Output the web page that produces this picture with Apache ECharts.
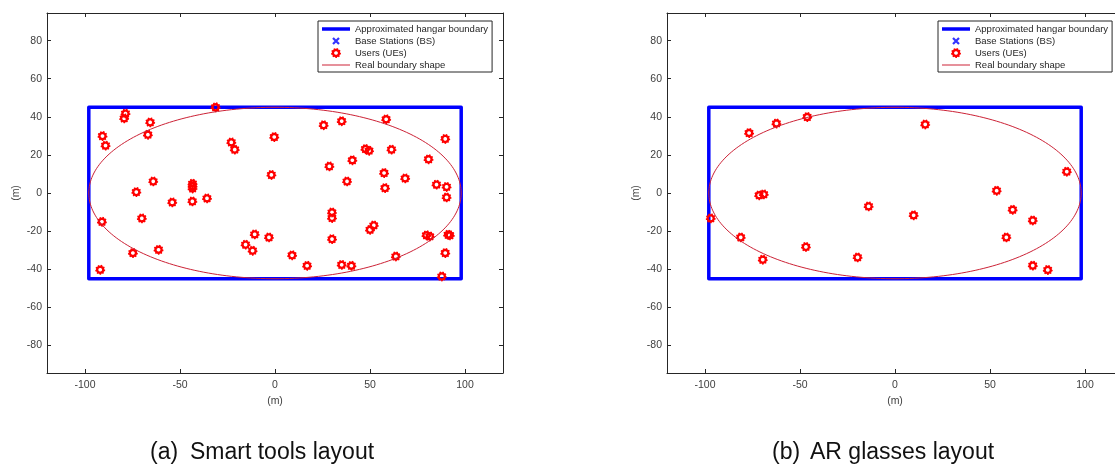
<!DOCTYPE html>
<html>
<head>
<meta charset="utf-8">
<script src="https://cdn.jsdelivr.net/npm/echarts@6/dist/echarts.min.js"></script>
<style>
  html, body { margin: 0; padding: 0; background: #fff; }
  #chart { width: 1115px; height: 469px; }
</style>
</head>
<body>
<div id="chart"></div>
<script>
// Hangar footprint, metres
const hangarHalfLength = 98;
const hangarHalfWidth = 45;
const rectX = [-98, 98, 98, -98, -98];
const rectY = [-45, -45, 45, 45, -45];

// User positions, smart tools layout
const toolsX = [-31.3, -78.7, -79.4, -65.7, -66.9, -90.8, -89.2, -64.1, -73.0, -43.4, -43.4, -43.4, -43.5, -54.1, -35.8,
  -91.1, -70.1, -61.3, -74.8, -92.0, -23.0, -21.2, -0.4, -1.9, -10.7, -15.5, -11.8, -3.2, 9.0, 16.9, 25.6, 35.1, 28.6,
  40.7, 37.9, 47.6, 49.5, 58.5, 61.3, 57.4, 57.9, 68.5, 30.0, 30.0, 30.0, 52.0, 50.0, 35.1, 40.2, 63.6, 80.8, 89.6, 85.0,
  90.3, 90.3, 79.7, 81.5, 91.1, 92.0, 89.6, 87.8];
const toolsY = [45.0, 41.7, 39.2, 37.1, 30.6, 29.9, 24.9, 6.1, 0.5, 4.9, 3.6, 2.4, -4.4, -4.9, -2.8,
  -15.1, -13.3, -29.8, -31.5, -40.3, 26.6, 22.8, 29.4, 9.5, -21.7, -27.1, -30.3, -23.3, -32.7, -38.2, 35.6, 37.7, 14.0,
  17.2, 6.1, 23.1, 22.2, 38.7, 22.8, 10.5, 2.6, 7.7, -10.2, -13.1, -24.2, -17.0, -19.3, -37.7, -38.2, -33.3, 17.7, 28.4, 4.4,
  3.2, -2.3, -22.2, -22.8, -21.9, -22.2, -31.5, -43.8];

// User positions, AR glasses layout
const glassesX = [-76.8, -62.4, -46.2, -71.5, -69.1, -97.0, -81.2, -69.6, -46.9, -19.7, -13.9, 15.9, 9.8, 53.5, 61.9,
  72.5, 58.6, 72.5, 80.4, 90.4];
const glassesY = [31.5, 36.5, 39.9, -1.2, -0.7, -13.3, -23.3, -35.0, -28.3, -33.8, -7.0, 36.0, -11.7, 1.2, -8.8,
  -14.4, -23.3, -38.1, -40.4, 11.2];

// Base stations (none placed in these layouts)
const bsX = [];
const bsY = [];

const xTicks = [-100, -50, 0, 50, 100];
const yTicks = [-80, -60, -40, -20, 0, 20, 40, 60, 80];
const legendNames = ['Approximated hangar boundary', 'Base Stations (BS)', 'Users (UEs)', 'Real boundary shape'];
const captions = [['(a)', 'Smart tools layout'], ['(b)', 'AR glasses layout']];
const axisName = '(m)';

const FONT = 'Liberation Sans, Arial, Helvetica, sans-serif';
const AXIS_COLOR = '#262626';
const LABEL_COLOR = '#404040';
const BLUE = '#0000ff';
const RED = '#ff0000';
const ELLIPSE_RED = '#cc2236';

const pairs = (xs, ys) => xs.map((x, i) => [x, ys[i]]);

// Elliptical boundary traced from the hangar semi-axes
const ellipseSteps = 240;
const ellipsePts = [];
for (let k = 0; k <= ellipseSteps; k++) {
  const t = 2 * Math.PI * k / ellipseSteps;
  ellipsePts.push([hangarHalfLength * Math.cos(t), hangarHalfWidth * Math.sin(t)]);
}

// Gear-shaped user marker: toothed ring with a hole (inner loop wound the other way)
function gearSymbol() {
  const cx = 10, cy = 10, rOut = 10, rIn = 8.4, rHole = 3.7, teeth = 9;
  const per = 2 * Math.PI / teeth;
  const pt = (a, r) => (cx + r * Math.cos(a)).toFixed(3) + ',' + (cy + r * Math.sin(a)).toFixed(3);
  let d = 'M0,0L0,0M20,20L20,20';
  const outer = [];
  for (let k = 0; k < teeth; k++) {
    const a = k * per;
    outer.push(pt(a, rOut), pt(a + 0.4 * per, rOut), pt(a + 0.5 * per, rIn), pt(a + 0.9 * per, rIn));
  }
  d += 'M' + outer.join('L') + 'Z';
  const inner = [];
  for (let k = 0; k < 24; k++) inner.push(pt(-k * 2 * Math.PI / 24, rHole));
  d += 'M' + inner.join('L') + 'Z';
  return 'path://' + d;
}
const GEAR = gearSymbol();
// Bold "x" marker for base stations
const CROSS = 'path://M0,0L0,0M20,20L20,20' +
  'M5.556,2.444L17.556,14.444L14.444,17.556L2.444,5.556Z' +
  'M17.556,5.556L5.556,17.556L2.444,14.444L14.444,2.444Z';

const gridLeft = [47, 667];
const legendLeft = [318, 938];
const captionX = [[150, 190], [772, 810]];
const userData = [pairs(toolsX, toolsY), pairs(glassesX, glassesY)];

const grids = [], xAxes = [], yAxes = [], series = [], legends = [], graphics = [];

function xAxis(g, pos, main) {
  return {
    type: 'value', gridIndex: g, position: pos, min: -120, max: 120,
    axisLine: { show: true, onZero: false, lineStyle: { color: AXIS_COLOR, width: 1 } },
    axisTick: { show: true, inside: true, length: 4, customValues: xTicks, lineStyle: { color: AXIS_COLOR, width: 1 } },
    axisLabel: { show: main, customValues: xTicks, margin: 7, fontSize: 10.5, color: LABEL_COLOR, fontFamily: FONT },
    splitLine: { show: false },
    name: main ? axisName : '', nameLocation: 'middle', nameGap: 21,
    nameTextStyle: { fontSize: 10.5, color: LABEL_COLOR, fontFamily: FONT }
  };
}
function yAxis(g, pos, main) {
  return {
    type: 'value', gridIndex: g, position: pos, min: -94.5, max: 94.5,
    axisLine: { show: true, onZero: false, lineStyle: { color: AXIS_COLOR, width: 1 } },
    axisTick: { show: true, inside: true, length: 4, customValues: yTicks, lineStyle: { color: AXIS_COLOR, width: 1 } },
    axisLabel: { show: main, customValues: yTicks, margin: 5, fontSize: 10.5, color: LABEL_COLOR, fontFamily: FONT },
    splitLine: { show: false },
    name: main ? axisName : '', nameLocation: 'middle', nameGap: 25, nameRotate: 90,
    nameTextStyle: { fontSize: 10.5, color: LABEL_COLOR, fontFamily: FONT }
  };
}

for (let g = 0; g < 2; g++) {
  grids.push({ left: gridLeft[g], top: 13, width: 456, height: 360, containLabel: false, outerBoundsMode: 'none' });
  xAxes.push(xAxis(g, 'bottom', true), xAxis(g, 'top', false));
  yAxes.push(yAxis(g, 'left', true), yAxis(g, 'right', false));
  const xi = g * 2, yi = g * 2;

  series.push({
    name: legendNames[0], type: 'line', xAxisIndex: xi, yAxisIndex: yi,
    data: pairs(rectX, rectY), symbol: 'none', silent: true, animation: false, z: 2,
    lineStyle: { color: BLUE, width: 3.5, join: 'round', cap: 'round' }, itemStyle: { color: BLUE }
  });
  series.push({
    name: legendNames[1], type: 'scatter', xAxisIndex: xi, yAxisIndex: yi,
    data: pairs(bsX, bsY), symbol: CROSS, symbolSize: 10, silent: true, animation: false, z: 3,
    itemStyle: { color: BLUE }
  });
  series.push({
    name: legendNames[2], type: 'scatter', xAxisIndex: xi, yAxisIndex: yi,
    data: userData[g], symbol: GEAR, symbolSize: 10, silent: true, animation: false, z: 4,
    itemStyle: { color: RED, opacity: 1 }
  });
  series.push({
    name: legendNames[3], type: 'line', xAxisIndex: xi, yAxisIndex: yi,
    data: ellipsePts, symbol: 'none', silent: true, animation: false, z: 5,
    lineStyle: { color: ELLIPSE_RED, width: 1 }, itemStyle: { color: ELLIPSE_RED }
  });

  legends.push({
    left: legendLeft[g], top: 21, orient: 'vertical',
    itemWidth: 28, itemHeight: 10, itemGap: 2,
    padding: [3, 4, 2, 4], borderColor: AXIS_COLOR, borderWidth: 1, borderRadius: 0,
    backgroundColor: '#fff', selectedMode: false,
    textStyle: { fontSize: 9.5, color: AXIS_COLOR, fontFamily: FONT },
    data: [
      { name: legendNames[0], icon: 'path://M0,0H28V3.5H0Z', itemStyle: { color: BLUE, borderWidth: 0 } },
      { name: legendNames[1], icon: CROSS, itemStyle: { color: BLUE, borderWidth: 0 } },
      { name: legendNames[2], icon: GEAR, itemStyle: { color: RED, borderWidth: 0 } },
      { name: legendNames[3], icon: 'path://M0,0H28V1H0Z', itemStyle: { color: ELLIPSE_RED, borderWidth: 0 } }
    ]
  });

  graphics.push(
    { type: 'text', left: captionX[g][0], top: 441, style: { text: captions[g][0], font: '23px ' + FONT, fill: '#111' } },
    { type: 'text', left: captionX[g][1], top: 441, style: { text: captions[g][1], font: '23px ' + FONT, fill: '#111' } }
  );
}

const chart = echarts.init(document.getElementById('chart'), null, { renderer: 'canvas' });
chart.setOption({
  animation: false,
  backgroundColor: '#fff',
  grid: grids,
  xAxis: xAxes,
  yAxis: yAxes,
  legend: legends,
  series: series,
  graphic: graphics
});
</script>
</body>
</html>
